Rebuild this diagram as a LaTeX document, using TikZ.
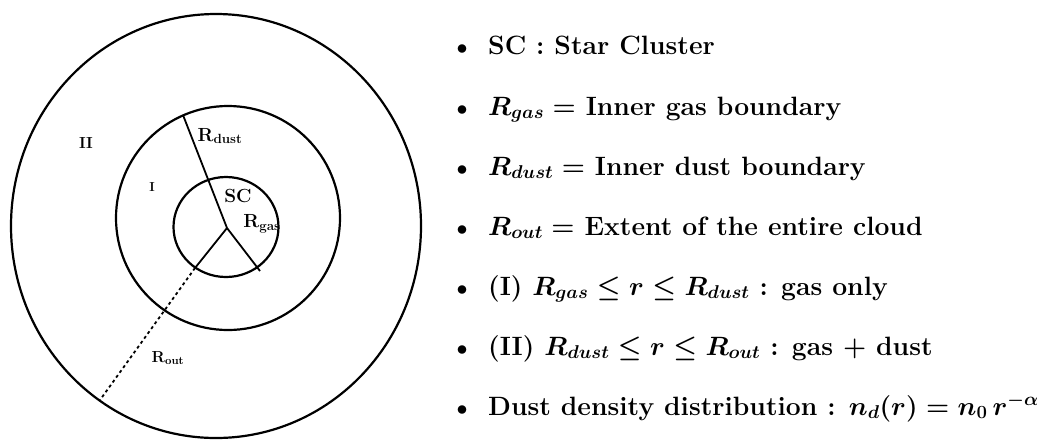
\RequirePackage{fix-cm}
\documentclass[tikz,border=0pt]{standalone}
\usepackage{amsmath}
\usepackage{amssymb}
\usepackage{bm}
\usepackage{tikz}
\usetikzlibrary{
	arrows.meta,
	positioning,
	calc
}

\tikzset{
	ring/.style={line width=2.2pt},
	radline/.style={line width=1.8pt},
	item/.style={anchor=base west,inner sep=0pt,font=\fontsize{26.5}{30}\selectfont\bfseries\boldmath},
	dot/.style={anchor=base,inner sep=0pt,font=\fontsize{22}{24}\selectfont},
	zone/.style={inner sep=0pt,font=\fontsize{16}{18}\selectfont\bfseries},
	lbl/.style={inner sep=0pt,font=\fontsize{19}{21}\selectfont\bfseries}
}

\begin{document}
\begin{tikzpicture}[>=Stealth,x=1pt,y=-1pt]
		\clip (0,0) rectangle (1047,440);
		
		% cloud
		\coordinate (c) at (227,228);
		\draw[ring] (216,226) ellipse [x radius=205,y radius=212];
		\draw[ring] (228,218) circle (112);
		\draw[ring] (226,227) ellipse [x radius=52.5,y radius=50];
		
		\coordinate (dust) at (183,115);
		\coordinate (gas) at (260,271);
		\coordinate (in) at (195,268);
		\coordinate (out) at (100,400);
		\draw[radline] (c)--(dust);
		\draw[radline] (c)--(gas);
		\draw[radline] (c)--(in);
		\draw[radline,dashed] (in)--(out);
		
		\node[zone] (II) at (86,143) {II};
		\node[zone,font=\fontsize{13}{15}\selectfont\bfseries] (I) at (152,187) {I};
		\node[lbl] (Rd) at (220,136) {$\mathbf{R_{dust}}$};
		\node[lbl] (SC) at (238,196) {SC};
		\node[lbl] (Rg) at (262,224) {$\mathbf{R_{gas}}$};
		\node[zone] (Ro) at (168,358) {$\mathbf{R_{out}}$};
		
		% legend
		\foreach \y in {54,115,175,235,295,355,415}
		\node[dot] (b\y) at (462,\y) {$\bullet$};
		
		\node[item] (sc) at (488,54) {SC : Star Cluster};
		\node[item] (rgas) at (488,115) {$R_{gas} =$ Inner gas boundary};
		\node[item] (rdust) at (488,175) {$R_{dust} =$ Inner dust boundary};
		\node[item] (rout) at (488,235) {$R_{out} =$ Extent of the entire cloud};
		\node[item] (zI) at (488,295) {(I) $R_{gas} \le r \le R_{dust}$ : gas only};
		\node[item] (zII) at (488,355) {(II) $R_{dust} \le r \le R_{out}$ : gas + dust};
		\node[item] (dens) at (488,415) {Dust density distribution : $n_d(r) = n_0\, r^{-\alpha}$};
		
	\end{tikzpicture}
\end{document}
